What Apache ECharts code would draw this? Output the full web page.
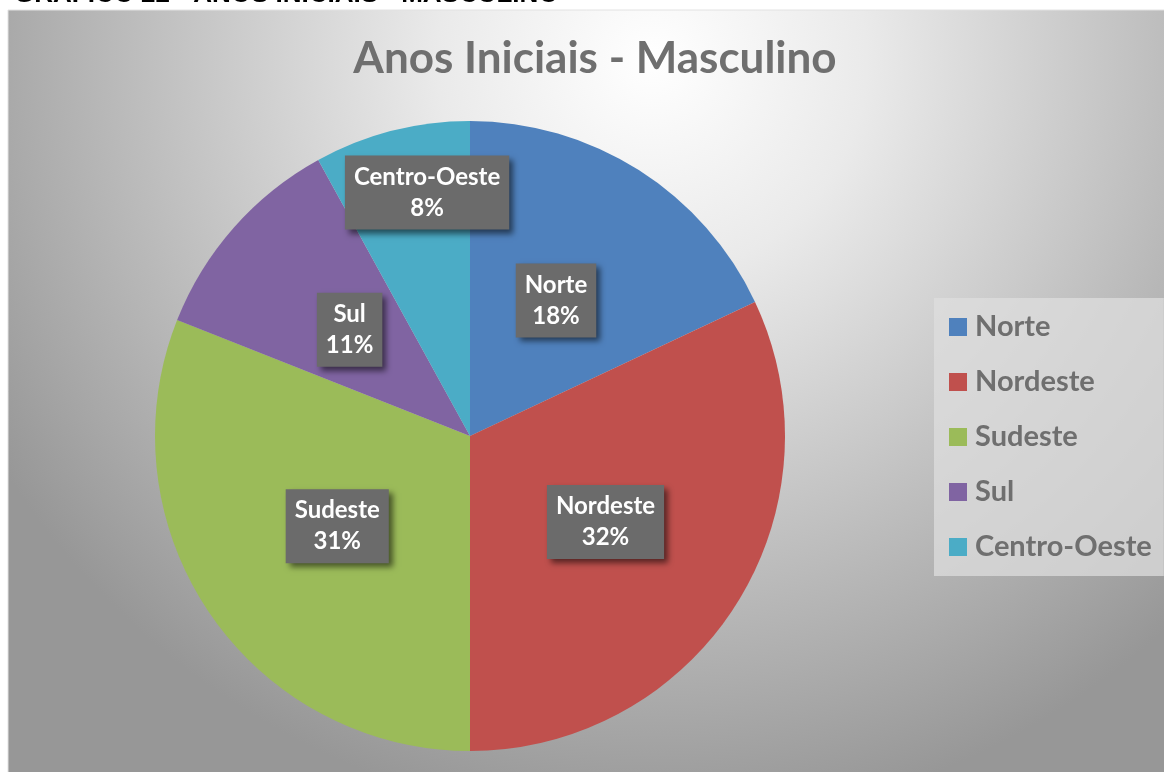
<!DOCTYPE html>
<html>
<head>
<meta charset="utf-8">
<title>Anos Iniciais - Masculino</title>
<script src="https://cdn.jsdelivr.net/npm/echarts@6/dist/echarts.min.js"></script>
<style>
  html, body { margin: 0; padding: 0; background: #ffffff; }
  #chart { width: 1164px; height: 772px; }
</style>
</head>
<body>
<div id="chart"></div>
<script>
// Regions and their share of male enrolment in the early years (percent)
const regions = ['Norte', 'Nordeste', 'Sudeste', 'Sul', 'Centro-Oeste'];
const shares = [18, 32, 31, 11, 8];
const regionColors = ['#4f81bd', '#c0504d', '#9bbb59', '#8064a2', '#4bacc6'];

const chartTitle = 'Anos Iniciais - Masculino';
const pageHeading = 'GRÁFICO 22 - ANOS INICIAIS - MASCULINO';

const FONT = 'Lato, "Open Sans", sans-serif';
const GREY_TEXT = '#6f6f6f';

const chart = echarts.init(document.getElementById('chart'), null, { renderer: 'canvas' });

const pieData = regions.map((name, i) => ({
  name: name,
  value: shares[i],
  itemStyle: { color: regionColors[i] }
}));

chart.setOption({
  animation: false,
  backgroundColor: '#ffffff',
  graphic: [
    {
      type: 'rect',
      z: -10,
      silent: true,
      shape: { x: 8, y: 10, width: 1160, height: 766 },
      style: {
        fill: {
          type: 'radial', x: 0.555, y: 0.066, r: 1.0,
          colorStops: [
            { offset: 0, color: '#ffffff' },
            { offset: 0.28, color: '#eaeaea' },
            { offset: 1, color: '#979797' }
          ]
        },
        stroke: '#e2e2e2',
        lineWidth: 1
      }
    },
    {
      type: 'text',
      z: -5,
      silent: true,
      x: 14,
      y: -5,
      style: {
        text: pageHeading,
        fill: '#000000',
        font: 'bold 26px "Liberation Sans", Arial, sans-serif',
        verticalAlign: 'middle'
      }
    }
  ],
  title: {
    text: chartTitle,
    left: 590,
    top: 32,
    textAlign: 'center',
    textStyle: {
      fontFamily: FONT,
      fontWeight: 'bold',
      fontSize: 44,
      color: GREY_TEXT
    }
  },
  legend: {
    orient: 'vertical',
    left: 934,
    top: 298,
    data: regions,
    icon: 'rect',
    itemWidth: 18,
    itemHeight: 18,
    itemGap: 25,
    padding: [14, 12, 14, 15],
    backgroundColor: 'rgba(222,222,222,0.75)',
    textStyle: {
      fontFamily: FONT,
      fontWeight: 'bold',
      fontSize: 29,
      lineHeight: 30,
      color: GREY_TEXT,
      padding: [0, 0, 0, 3]
    },
    selectedMode: false
  },
  series: [
    {
      type: 'pie',
      center: [470, 436],
      radius: 315,
      startAngle: 90,
      clockwise: true,
      data: pieData,
      itemStyle: { borderWidth: 0 },
      emphasis: { disabled: true },
      label: {
        show: true,
        position: 'inside',
        formatter: (p) => p.name + '\n' + Math.round(p.percent) + '%',
        fontFamily: FONT,
        fontWeight: 'bold',
        fontSize: 24,
        lineHeight: 31,
        color: '#ffffff',
        backgroundColor: '#6b6b6b',
        padding: [6, 9],
        shadowColor: 'rgba(0,0,0,0.55)',
        shadowBlur: 6,
        shadowOffsetX: 4,
        shadowOffsetY: 4
      },
      labelLine: { show: false },
      // the smallest slice carries its label further out, near the rim
      labelLayout: (params) => params.dataIndex === 4 ? { dx: -3, dy: -88 } : {}
    }
  ]
});
</script>
</body>
</html>
